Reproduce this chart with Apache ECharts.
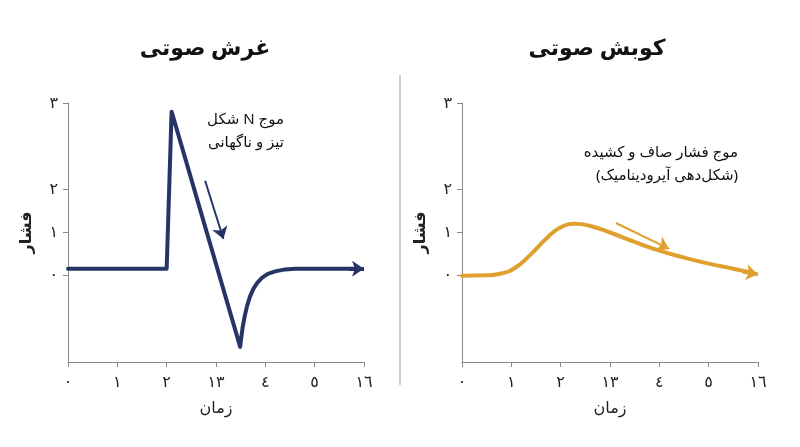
<!DOCTYPE html><html><head><meta charset="utf-8"><script src="https://cdn.jsdelivr.net/npm/echarts@6/dist/echarts.min.js"></script></head><body style="margin:0"><div id="c" style="width:800px;height:447px"></div><script>
const xLabels=['٠','١','٢','١٣','٤','٥','١٦'];
const yLabelMap={0:'٠',1:'١',2:'٢',4:'٣'};
const boomData=[[0,0.16],[2,0.16],[2.1,3.8],[3.49,-1.65],[3.51,-1.45],[3.54,-1.2],[3.58,-0.95],[3.63,-0.7],[3.69,-0.48],[3.76,-0.3],[3.84,-0.16],[3.93,-0.05],[4.05,0.04],[4.2,0.1],[4.4,0.145],[4.6,0.158],[4.8,0.16],[5.9,0.16]];
const thumpData=[[0,0],[0.5,0.01],[0.8,0.05],[1.1,0.2],[1.4,0.5],[1.7,0.85],[2.0,1.12],[2.3,1.2],[2.6,1.15],[3,1.0],[3.5,0.78],[4,0.58],[4.5,0.42],[5,0.28],[5.5,0.16],[5.9,0.06]];
const titles=['غرش صوتی','کوبش صوتی'];
const notes=[['موج N شکل','تیز و ناگهانی'],['موج فشار صاف و کشیده','(شکل‌دهی آیرودینامیک)']];
const RLE='\u202B',PDF='\u202C';
const F='"Noto Sans", "DejaVu Sans", sans-serif';
const navy='#263566',gold='#DFA030',grey='#8a8a8a';
function xa(i){return {gridIndex:i,type:'value',min:0,max:6,interval:1,position:'bottom',
 axisLine:{onZero:false,lineStyle:{color:grey}},axisTick:{length:5,lineStyle:{color:grey}},splitLine:{show:false},
 axisLabel:{formatter:v=>xLabels[v],fontSize:16,color:'#222',margin:12,fontFamily:F},
 name:'زمان',nameLocation:'middle',nameGap:38,nameTextStyle:{fontSize:16,color:'#222',fontFamily:F}};}
function ya(i){return {gridIndex:i,type:'value',min:-2,max:4,interval:1,
 axisLine:{show:true,lineStyle:{color:grey}},axisTick:{show:true,length:5,customValues:[0,1,2,4],lineStyle:{color:grey}},splitLine:{show:false},
 axisLabel:{customValues:[0,1,2,4],formatter:v=>yLabelMap[v]??'',fontSize:16,color:'#222',margin:10,fontFamily:F},
 name:'فشار',nameLocation:'middle',nameGap:34,nameRotate:90,nameTextStyle:{fontSize:16,color:'#222',fontWeight:'bold',fontFamily:F}};}
const c=echarts.init(document.getElementById('c'));
c.setOption({animation:false,
 title:[{text:titles[0],left:200,top:33,textAlign:'center',textStyle:{fontSize:22,fontWeight:'bold',color:'#111',fontFamily:F}},
        {text:titles[1],left:592,top:33,textAlign:'center',textStyle:{fontSize:22,fontWeight:'bold',color:'#111',fontFamily:F}}],
 grid:[{left:68,width:296,top:103,height:259},{left:462,width:296,top:103,height:259}],
 xAxis:[xa(0),xa(1)],yAxis:[ya(0),ya(1)],
 graphic:[{type:'line',shape:{x1:400,y1:75,x2:400,y2:385},style:{stroke:'#999',lineWidth:1}},
  {type:'text',x:284,y:108,style:{text:RLE+notes[0][0]+PDF+'\n'+RLE+notes[0][1]+PDF,align:'right',fontSize:15,lineHeight:23,fill:'#111',fontFamily:F}},
  {type:'text',x:738,y:141,style:{text:RLE+notes[1][0]+PDF+'\n'+RLE+notes[1][1]+PDF,align:'right',fontSize:15,lineHeight:23,fill:'#111',fontFamily:F}}],
 series:[
  {type:'line',xAxisIndex:0,yAxisIndex:0,data:boomData,showSymbol:false,smooth:false,lineStyle:{color:navy,width:4,join:'round',cap:'round'},
   markLine:{silent:true,symbol:['none','arrow'],symbolSize:12,label:{show:false},
    data:[[{coord:[5.7,0.16],lineStyle:{color:navy,width:4,type:'solid'}},{coord:[6,0.16]}],
          [{coord:[2.78,2.2],lineStyle:{color:navy,width:2,type:'solid'}},{coord:[3.15,0.85]}]]}},
  {type:'line',xAxisIndex:1,yAxisIndex:1,data:thumpData,showSymbol:false,smooth:true,lineStyle:{color:gold,width:4,cap:'round'},
   markLine:{silent:true,symbol:['none','arrow'],symbolSize:12,label:{show:false},
    data:[[{coord:[5.7,0.09],lineStyle:{color:gold,width:4,type:'solid'}},{coord:[6,0.03]}],
          [{coord:[3.12,1.22],lineStyle:{color:gold,width:2,type:'solid'}},{coord:[4.2,0.62]}]]}}
 ]});
</script></body></html>
